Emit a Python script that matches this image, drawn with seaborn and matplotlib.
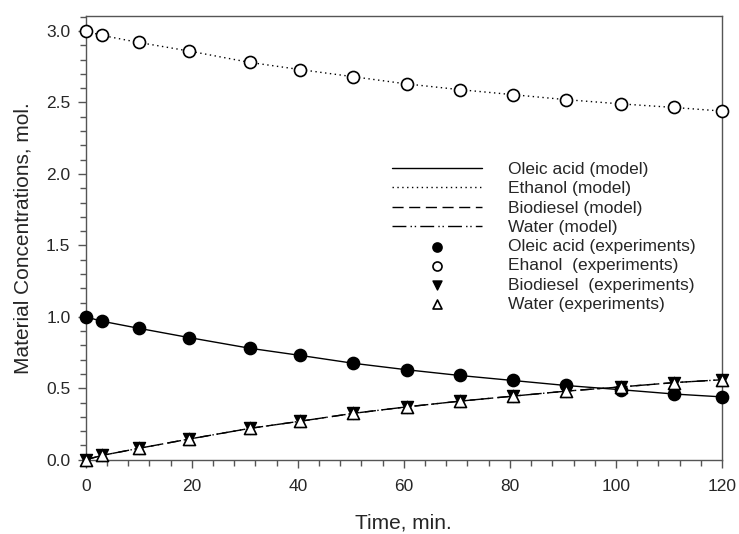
import matplotlib
matplotlib.use("Agg")
import matplotlib.pyplot as plt
import seaborn as sns
import numpy as np
from matplotlib.ticker import MultipleLocator

sns.set_style("white")
plt.rcParams['font.family'] = ['Liberation Sans', 'DejaVu Sans']

time = [0, 3, 10, 19.5, 31, 40.5, 50.5, 60.5, 70.5, 80.5, 90.5, 101, 111, 120]
ethanol = [3.0, 2.97, 2.92, 2.86, 2.78, 2.73, 2.68, 2.63, 2.59, 2.555, 2.52, 2.49, 2.465, 2.44]
oleic = [1.0, 0.97, 0.92, 0.855, 0.78, 0.73, 0.675, 0.63, 0.59, 0.555, 0.52, 0.49, 0.46, 0.44]
biodiesel = [0.0, 0.03, 0.08, 0.145, 0.22, 0.27, 0.325, 0.37, 0.41, 0.445, 0.48, 0.51, 0.54, 0.56]
water = [0.0, 0.03, 0.08, 0.145, 0.22, 0.27, 0.325, 0.37, 0.41, 0.445, 0.48, 0.51, 0.54, 0.56]

fig = plt.figure(figsize=(7.39, 5.34), dpi=100)
ax = fig.add_axes([0.116, 0.139, 0.861, 0.831])

lw = 1.0
sns.lineplot(x=time, y=oleic, ax=ax, color='black', lw=lw, linestyle='-', label='Oleic acid (model)')
sns.lineplot(x=time, y=ethanol, ax=ax, color='black', lw=lw, linestyle=(0, (1, 2.5)), label='Ethanol (model)')
sns.lineplot(x=time, y=biodiesel, ax=ax, color='black', lw=lw, linestyle=(0, (8, 4)), label='Biodiesel (model)')
sns.lineplot(x=time, y=water, ax=ax, color='black', lw=lw, linestyle=(0, (10, 3, 1, 2, 1, 3)), label='Water (model)')

ms = 75
sns.scatterplot(x=time, y=oleic, ax=ax, marker='o', s=ms, color='black', edgecolor='black', linewidth=1.2, zorder=5, label='Oleic acid (experiments)')
sns.scatterplot(x=time, y=ethanol, ax=ax, marker='o', s=ms, color='white', edgecolor='black', linewidth=1.2, zorder=5, label='Ehanol  (experiments)')
sns.scatterplot(x=time, y=biodiesel, ax=ax, marker='v', s=ms, color='black', edgecolor='black', linewidth=1.0, zorder=5, label='Biodiesel  (experiments)')
sns.scatterplot(x=time, y=water, ax=ax, marker='^', s=ms, color='white', edgecolor='black', linewidth=1.2, zorder=6, label='Water (experiments)')

ax.set_xlim(0, 120)
ax.set_ylim(0, 3.105)
ax.xaxis.set_major_locator(MultipleLocator(20))
ax.xaxis.set_minor_locator(MultipleLocator(4))
ax.yaxis.set_major_locator(MultipleLocator(0.5))
ax.yaxis.set_minor_locator(MultipleLocator(0.1))
ax.yaxis.set_major_formatter(matplotlib.ticker.FormatStrFormatter('%.1f'))
ax.tick_params(axis='both', which='both', direction='out', bottom=True, left=True, top=False, right=False, color='#555555')
ax.tick_params(axis='both', which='major', length=6, width=1, labelsize=12.5)
ax.tick_params(axis='x', which='major', pad=8)
ax.tick_params(axis='y', which='major', pad=5)
ax.tick_params(axis='both', which='minor', length=4, width=1)
for sp in ax.spines.values():
    sp.set_color('#555555')
    sp.set_linewidth(1.0)

ax.set_xlabel('Time, min.', fontsize=15, labelpad=14)
ax.set_ylabel('Material Concentrations, mol.', fontsize=15, labelpad=10)

for c in ax.collections:
    c.set_clip_on(False)

handles, labels = ax.get_legend_handles_labels()
leg = ax.legend(handles, labels, loc='upper left', bbox_to_anchor=(0.481, 0.671), frameon=False,
                fontsize=12.5, handlelength=5.2, handletextpad=1.5, labelspacing=0.235,
                borderpad=0, borderaxespad=0, scatterpoints=1, markerscale=0.75)

fig.savefig('out.png', dpi=100)
